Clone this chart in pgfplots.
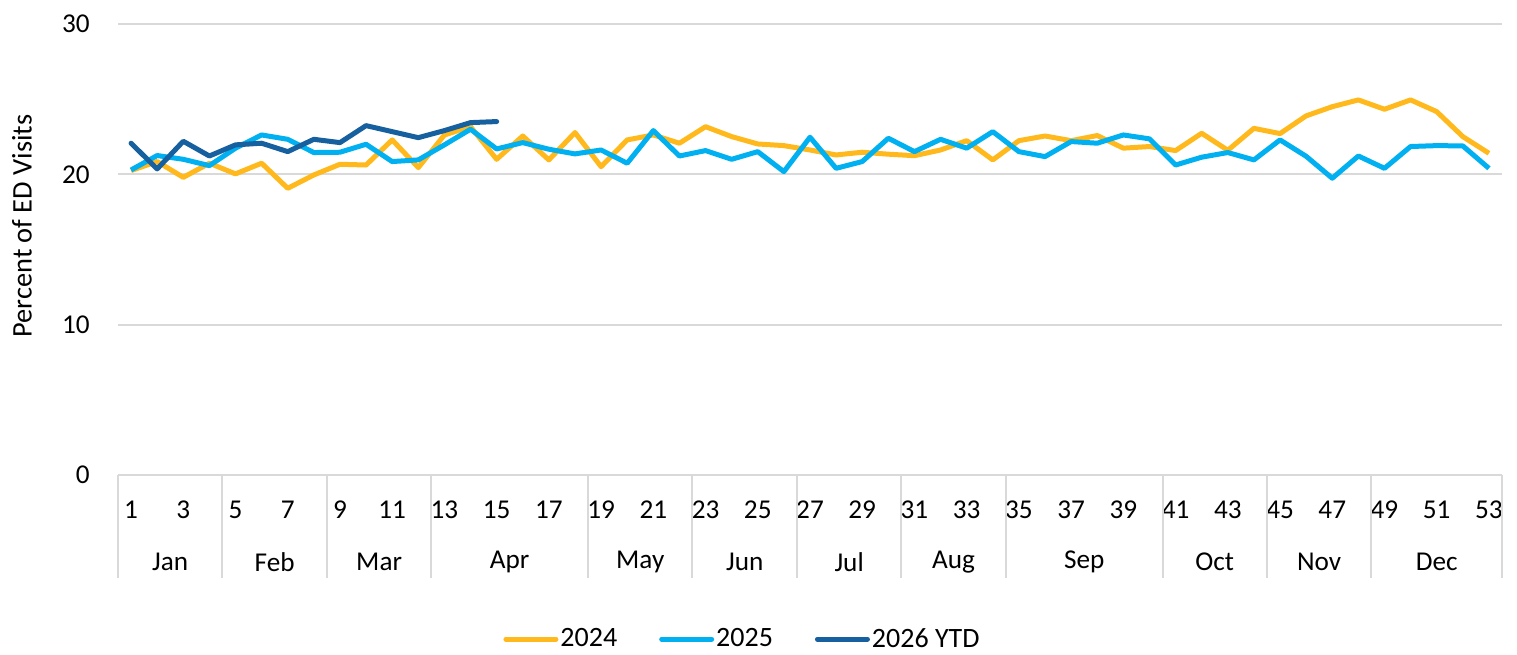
\documentclass[border=0pt]{standalone}
\usepackage{pgfplots}
\pgfplotsset{compat=1.18}
\usepackage{fontspec}
\setmainfont{Carlito}
\definecolor{c24}{RGB}{255,185,28}
\definecolor{c25}{RGB}{0,176,240}
\definecolor{c26}{RGB}{22,96,160}
\definecolor{gridc}{RGB}{217,217,217}
\begin{document}
\begin{tikzpicture}
\useasboundingbox (0,0) rectangle (758.5pt,327pt);
\node[rotate=90, font=\fontsize{14.2}{16}\selectfont] at (11pt,214pt) {Percent of ED Visits};
\begin{axis}[
  at={(59pt,89.5pt)}, anchor=south west,
  scale only axis, width=692pt, height=225.5pt,
  xmin=0.5, xmax=53.5, ymin=0, ymax=30,
  xtick={1,3,...,53}, ytick={0,10,20,30},
  major tick length=0pt,
  axis line style={draw=none},
  ymajorgrids, grid style={draw=gridc, line width=1pt},
  tick label style={font=\fontsize{13.6}{16}\selectfont},
  /pgf/number format/assume math mode=true,
  xticklabel style={anchor=center, yshift=-17.5pt},
  yticklabel style={anchor=east, inner sep=0pt, xshift=-14pt},
  clip=false,
  legend columns=3,
  legend style={draw=none, inner sep=0pt, at={(0.2782,-0.364)}, anchor=west,
    font=\fontsize{14}{16}\selectfont,
    nodes={inner sep=1pt},
    /tikz/every even column/.append style={column sep=20pt}},
  legend image code/.code={\draw[#1, line width=2.5pt, line cap=round] (0pt,0pt) -- (25pt,0pt);},
]
\addplot[c24, line width=2.5pt, line join=round] coordinates {
(1,20.25)(2,20.85)(3,19.8)(4,20.74)(5,20.03)(6,20.74)(7,19.07)(8,19.96)(9,20.67)(10,20.62)
(11,22.29)(12,20.45)(13,22.62)(14,23.17)(15,21.0)(16,22.55)(17,20.96)(18,22.78)(19,20.51)(20,22.29)
(21,22.62)(22,22.07)(23,23.17)(24,22.51)(25,22.02)(26,21.91)(27,21.62)(28,21.29)(29,21.47)(30,21.34)
(31,21.24)(32,21.62)(33,22.24)(34,20.96)(35,22.24)(36,22.55)(37,22.24)(38,22.58)(39,21.74)(40,21.85)
(41,21.58)(42,22.73)(43,21.6)(44,23.06)(45,22.71)(46,23.89)(47,24.5)(48,24.95)(49,24.33)(50,24.95)
(51,24.17)(52,22.51)(53,21.40)};
\addlegendentry{2024}
\addplot[c25, line width=2.5pt, line join=round] coordinates {
(1,20.29)(2,21.25)(3,21.0)(4,20.58)(5,21.74)(6,22.62)(7,22.33)(8,21.45)(9,21.47)(10,22.0)
(11,20.85)(12,20.96)(13,21.96)(14,23.0)(15,21.69)(16,22.11)(17,21.67)(18,21.36)(19,21.62)(20,20.74)
(21,22.91)(22,21.22)(23,21.58)(24,21.0)(25,21.51)(26,20.18)(27,22.47)(28,20.4)(29,20.85)(30,22.4)
(31,21.51)(32,22.33)(33,21.74)(34,22.84)(35,21.51)(36,21.18)(37,22.18)(38,22.07)(39,22.62)(40,22.36)
(41,20.62)(42,21.14)(43,21.45)(44,20.96)(45,22.29)(46,21.2)(47,19.74)(48,21.22)(49,20.4)(50,21.85)
(51,21.91)(52,21.89)(53,20.4)};
\addlegendentry{2025}
\addplot[c26, line width=2.5pt, line join=round, line cap=round] coordinates {
(1,22.07)(2,20.36)(3,22.2)(4,21.22)(5,21.96)(6,22.07)(7,21.51)(8,22.33)(9,22.11)(10,23.24)
(11,22.84)(12,22.44)(13,22.91)(14,23.44)(15,23.51)};
\addlegendentry{2026 YTD}
\draw[gridc, line width=1pt] (axis cs:0.5,0) -- ++(0pt,-51.5pt);
\draw[gridc, line width=1pt] (axis cs:4.5,0) -- ++(0pt,-51.5pt);
\draw[gridc, line width=1pt] (axis cs:8.5,0) -- ++(0pt,-51.5pt);
\draw[gridc, line width=1pt] (axis cs:12.5,0) -- ++(0pt,-51.5pt);
\draw[gridc, line width=1pt] (axis cs:18.5,0) -- ++(0pt,-51.5pt);
\draw[gridc, line width=1pt] (axis cs:22.5,0) -- ++(0pt,-51.5pt);
\draw[gridc, line width=1pt] (axis cs:26.5,0) -- ++(0pt,-51.5pt);
\draw[gridc, line width=1pt] (axis cs:30.5,0) -- ++(0pt,-51.5pt);
\draw[gridc, line width=1pt] (axis cs:34.5,0) -- ++(0pt,-51.5pt);
\draw[gridc, line width=1pt] (axis cs:40.5,0) -- ++(0pt,-51.5pt);
\draw[gridc, line width=1pt] (axis cs:44.5,0) -- ++(0pt,-51.5pt);
\draw[gridc, line width=1pt] (axis cs:48.5,0) -- ++(0pt,-51.5pt);
\draw[gridc, line width=1pt] (axis cs:53.5,0) -- ++(0pt,-51.5pt);
\begin{scope}[every node/.style={font=\fontsize{13.6}{16}\selectfont}]
\node at (axis cs:2.5,0) [yshift=-43.5pt] {Jan};
\node at (axis cs:6.5,0) [yshift=-43.5pt] {Feb};
\node at (axis cs:10.5,0) [yshift=-43.5pt] {Mar};
\node at (axis cs:15.5,0) [yshift=-43.5pt] {Apr};
\node at (axis cs:20.5,0) [yshift=-43.5pt] {May};
\node at (axis cs:24.5,0) [yshift=-43.5pt] {Jun};
\node at (axis cs:28.5,0) [yshift=-43.5pt] {Jul};
\node at (axis cs:32.5,0) [yshift=-43.5pt] {Aug};
\node at (axis cs:37.5,0) [yshift=-43.5pt] {Sep};
\node at (axis cs:42.5,0) [yshift=-43.5pt] {Oct};
\node at (axis cs:46.5,0) [yshift=-43.5pt] {Nov};
\node at (axis cs:51,0) [yshift=-43.5pt] {Dec};
\end{scope}
\end{axis}
\end{tikzpicture}
\end{document}
